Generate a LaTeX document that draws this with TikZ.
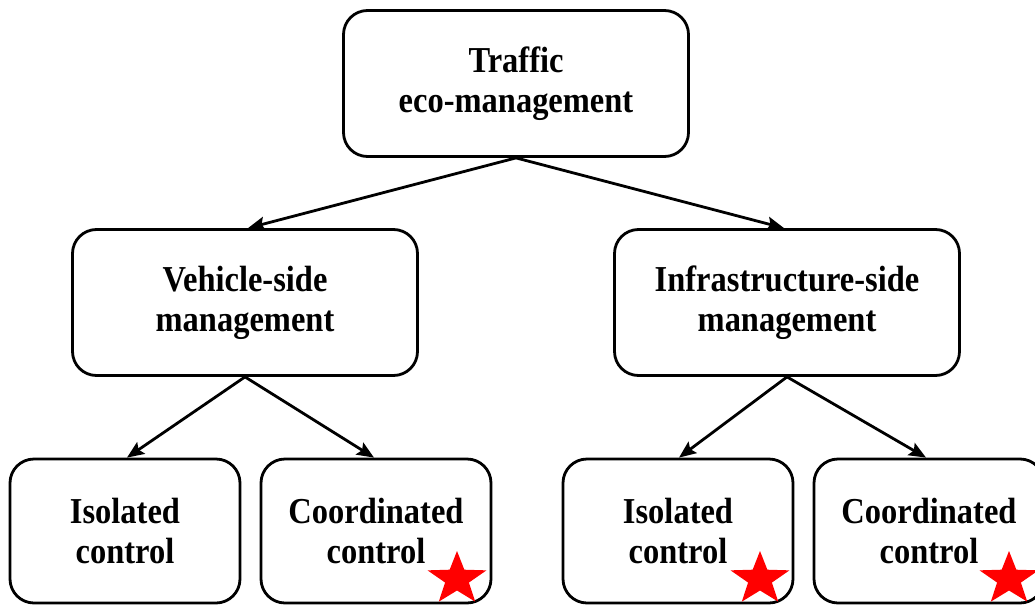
\documentclass[tikz,border=0pt]{standalone}
\usepackage{fontspec}
\setmainfont{Liberation Serif}[FakeStretch=0.89]
\usetikzlibrary{arrows.meta,calc}
\tikzset{
  box/.style={draw=black, line width=2.8pt, rounded corners=24pt, fill=white,
    align=center, inner sep=0pt,
    font=\fontsize{36.5}{40}\selectfont\bfseries},
  bigbox/.style={box, minimum width=345pt, minimum height=146pt},
  smallbox/.style={box, minimum width=230pt, minimum height=144pt},
  arr/.style={line width=2.8pt, -{Stealth[length=17pt,width=14pt,inset=3pt]}}
}
\newcommand{\redstar}[3]{% name, cx, cy
  \coordinate (#1) at (#2,#3);
  \fill[red] ($(#1)+(-90:31 and 28)$)
    \foreach \k in {1,...,9}{ -- ($(#1)+({-90+36*\k}:{ifthenelse(mod(\k,2)==1,12.5,31)} and {ifthenelse(mod(\k,2)==1,11.5,28)})$)} -- cycle;
}
\begin{document}
\begin{tikzpicture}[x=1pt,y=-1pt]
\useasboundingbox (0,0) rectangle (1035,605);
\node[bigbox] (top) at (516,83.5) {Traffic\\eco-management};
\node[bigbox] (veh) at (245,302.5) {Vehicle-side\\management};
\node[bigbox] (inf) at (787,302.5) {Infrastructure-side\\management};
\node[smallbox] (b1) at (125,531) {Isolated\\control};
\node[smallbox] (b2) at (376,531) {Coordinated\\control};
\node[smallbox] (b3) at (678,531) {Isolated\\control};
\node[smallbox] (b4) at (929,531) {Coordinated\\control};
\draw[arr] (top.south) -- ($(veh.north)+(3,0)$);
\draw[arr] (top.south) -- ($(inf.north)+(-3,0)$);
\draw[arr] (veh.south) -- ($(b1.north)+(2,0)$);
\draw[arr] (veh.south) -- ($(b2.north)+(-2,0)$);
\draw[arr] (inf.south) -- ($(b3.north)+(1,0)$);
\draw[arr] (inf.south) -- ($(b4.north)+(-3,0)$);
\redstar{s2}{457}{579}
\redstar{s3}{760}{579}
\redstar{s4}{1009}{579}
\end{tikzpicture}
\end{document}
